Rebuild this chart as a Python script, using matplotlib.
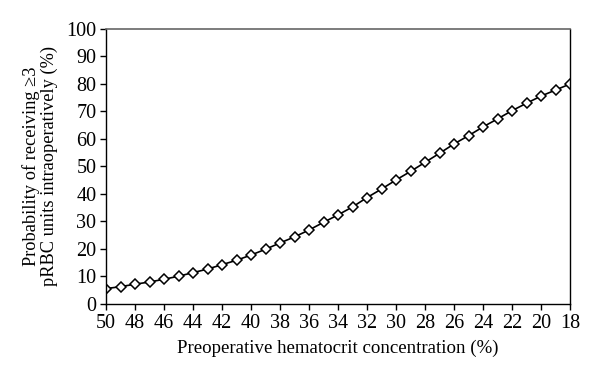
import matplotlib
matplotlib.use("Agg")
import matplotlib.pyplot as plt

hematocrit = list(range(50, 17, -1))
probability = [5.6, 6.3, 7.2, 8.0, 9.0, 10.1, 11.4, 12.7, 14.3, 15.9,
               17.8, 19.9, 22.2, 24.4, 26.9, 29.7, 32.4, 35.3, 38.7, 41.8,
               45.1, 48.2, 51.5, 54.8, 58.2, 61.2, 64.4, 67.3, 70.3, 73.0,
               75.6, 77.8, 80.0]
x_ticks = list(range(50, 17, -2))
y_ticks = list(range(0, 101, 10))

plt.rcParams['font.family'] = ['Liberation Serif', 'DejaVu Serif']

fig = plt.figure(figsize=(6, 3.81), dpi=100)
ax = fig.add_axes([0.1767, 0.2021, 0.7733, 0.7218])

ax.plot(hematocrit, probability, color="black", linewidth=1.2,
        marker="D", markersize=5, markerfacecolor="white",
        markeredgecolor="black", markeredgewidth=1.1)

ax.set_xlim(50, 18)
ax.set_ylim(0, 100)
ax.set_xticks(x_ticks)
ax.set_yticks(y_ticks)
ax.tick_params(axis="both", direction="out", length=4, width=1,
               labelsize=14.5, pad=3)

for side in ["left", "bottom", "right"]:
    ax.spines[side].set_color("black")
    ax.spines[side].set_linewidth(1)
ax.spines["top"].set_color("#666666")
ax.spines["top"].set_linewidth(1.2)

ax.set_xlabel("Preoperative hematocrit concentration (%)", fontsize=13.6,
              labelpad=5)
ax.set_ylabel("Probability of receiving \u22653\npRBC units intraoperatively (%)",
              fontsize=13.2, labelpad=6, linespacing=1.05)

fig.savefig("out.png", dpi=100)
